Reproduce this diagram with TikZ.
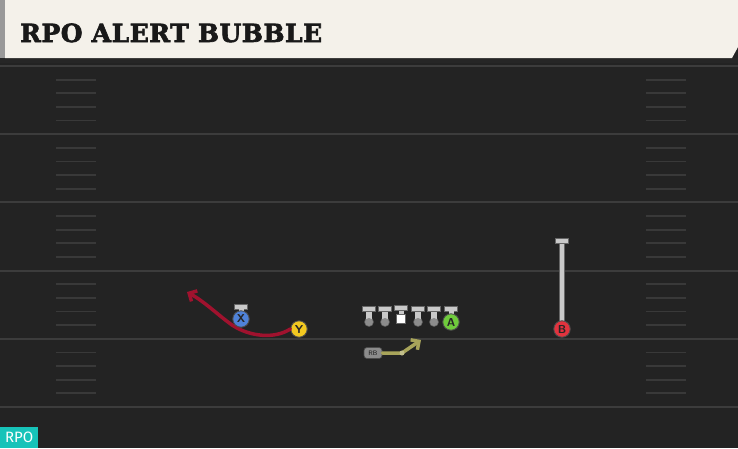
\documentclass[tikz,border=0pt]{standalone}
\usepackage{fontspec}
\usetikzlibrary{arrows.meta}
\newfontfamily\titlefont[LetterSpace=2, BoldFeatures={FakeBold=2.5}]{DejaVu Serif}
\newfontfamily\tagfont{Fira Sans}
\definecolor{field}{HTML}{232323}
\definecolor{cream}{HTML}{F4F1EA}
\definecolor{yardln}{HTML}{3C3C3C}
\definecolor{hashln}{HTML}{393939}
\definecolor{teal}{HTML}{17C3B9}
\definecolor{crimson}{HTML}{A0122E}
\definecolor{olive}{HTML}{A8A45A}
\definecolor{xblue}{HTML}{4F82D8}
\definecolor{ygold}{HTML}{F2C820}
\definecolor{agreen}{HTML}{6FCB3C}
\definecolor{bred}{HTML}{E2333E}
\definecolor{silver}{HTML}{C9C9C9}

\begin{document}
\begin{tikzpicture}[x=1pt, y=-1pt,
  every node/.style = {inner sep=0pt, align=center},
  player/.style = {shape=circle, minimum size=16.5pt, draw=black!70, line width=0.9pt,
    font=\sffamily\bfseries\fontsize{11.5}{11.5}\selectfont, text=black!85},
  tbar/.style = {fill=silver, draw=black!60, line width=0.5pt},
  route/.style = {line width=3.5pt, line cap=round, line join=round}]
  \useasboundingbox (0,0) rectangle (738,448);
  \fill[field] (0,0) rectangle (738,448);
  \foreach \i in {0,...,5}
    \draw[yardln, line width=2pt] (0,66+68.2*\i) -- (738,66+68.2*\i);
  \foreach \i in {0,...,4}
    \foreach \j in {1,...,4} {
      \draw[hashln, line width=1.8pt] (56,66+68.2*\i+13.64*\j) -- (96,66+68.2*\i+13.64*\j);
      \draw[hashln, line width=1.8pt] (646,66+68.2*\i+13.64*\j) -- (686,66+68.2*\i+13.64*\j);
    }
  \fill[black!85] (0,58) rectangle (738,63);
  \fill[black!40] (0,0) rectangle (5,58);
  \fill[cream] (5,0) -- (738,0) -- (738,47) -- (732,58) -- (5,58) -- cycle;
  \node[anchor=base west, font=\titlefont\bfseries\fontsize{25}{25}\selectfont, text=black!90] (title) at (20,42) {RPO ALERT BUBBLE};
  \node[fill=teal, text=white, font=\tagfont\fontsize{15}{15}\selectfont, minimum width=38pt, minimum height=21pt, anchor=south west] (tag) at (0,448) {RPO};
  \foreach \px [count=\k] in {369,385,418,434} {
    \fill[black!60] (\px,322) circle (4.8pt);
    \fill[silver] (\px-3,309) rectangle (\px+3,321);
    \filldraw[tbar] (\px-6.5,306.5) rectangle (\px+6.5,311.5);
    \fill[black!45] (\px,322) circle (4pt);
  }
  \fill[silver] (398.5,309) rectangle (403.5,315);
  \filldraw[tbar] (394.5,305.5) rectangle (407.5,310.5);
  \filldraw[fill=white, draw=black!60, line width=0.5pt] (396.5,314) rectangle (405.5,323);
  \filldraw[tbar] (234.5,304.5) rectangle (247.5,309);
  \fill[silver] (238.5,309) rectangle (243.5,313);
  \filldraw[tbar] (444.5,306.5) rectangle (457.5,311);
  \fill[silver] (448.5,311) rectangle (453.5,315);
  \filldraw[fill=silver, draw=black!60, line width=0.5pt] (559.5,243) rectangle (564.5,322);
  \filldraw[tbar] (555.5,238.5) rectangle (568.5,243);
  \coordinate (yend) at (187,292);
  \coordinate (rbbend) at (402,353);
  \coordinate (rbend) at (421,340);
  \node[player, fill=ygold] (Y) at (299,329) {Y};
  \draw[route, crimson, -{Straight Barb[length=6pt, width=12pt]}] (Y.west)
    .. controls (275,339) and (250,337) .. (232,325)
    .. controls (218,315) and (205,302) .. (yend);
  \node[player, fill=xblue] (X) at (241,319) {X};
  \node[player, fill=agreen] (A) at (451,322) {A};
  \node[player, fill=bred] (B) at (562,329) {B};
  \node[shape=rectangle, rounded corners=3pt, fill=black!45, draw=black!70, line width=0.6pt,
    minimum width=18pt, minimum height=11pt, text=black!90,
    font=\sffamily\fontsize{6.5}{6.5}\selectfont] (RB) at (373,353) {RB};
  \draw[route, olive, -{Straight Barb[length=6pt, width=12pt]}] (RB.east) -- (rbbend) -- (rbend);
  \fill[olive!70!white] (rbbend) circle (2.5pt);
\end{tikzpicture}
\end{document}
